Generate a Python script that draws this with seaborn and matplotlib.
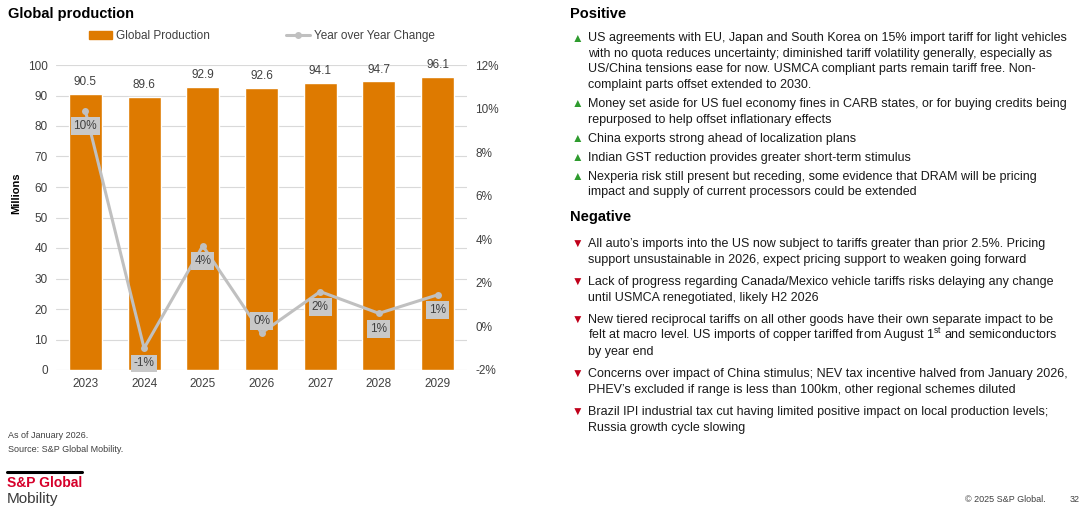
import numpy as np
import pandas as pd
import matplotlib
matplotlib.use("Agg")
import matplotlib.pyplot as plt
import seaborn as sns
from matplotlib.patches import Patch
from matplotlib.lines import Line2D

# Chart data
years = ["2023", "2024", "2025", "2026", "2027", "2028", "2029"]
production = [90.5, 89.6, 92.9, 92.6, 94.1, 94.7, 96.1]   # millions
yoy_change = [9.9, -1.0, 3.7, -0.3, 1.6, 0.6, 1.45]       # %

positive_points = [
    ["US agreements with EU, Japan and South Korea on 15% import tariff for light vehicles",
     "with no quota reduces uncertainty; diminished tariff volatility generally, especially as",
     "US/China tensions ease for now. USMCA compliant parts remain tariff free. Non-",
     "complaint parts offset extended to 2030."],
    ["Money set aside for US fuel economy fines in CARB states, or for buying credits being",
     "repurposed to help offset inflationary effects"],
    ["China exports strong ahead of localization plans"],
    ["Indian GST reduction provides greater short-term stimulus"],
    ["Nexperia risk still present but receding, some evidence that DRAM will be pricing",
     "impact and supply of current processors could be extended"],
]
negative_points = [
    ["All auto\u2019s imports into the US now subject to tariffs greater than prior 2.5%. Pricing",
     "support unsustainable in 2026, expect pricing support to weaken going forward"],
    ["Lack of progress regarding Canada/Mexico vehicle tariffs risks delaying any change",
     "until USMCA renegotiated, likely H2 2026"],
    ["New tiered reciprocal tariffs on all other goods have their own separate impact to be",
     "felt at macro level. US imports of copper tariffed from August 1$^{\\mathrm{st}}$ and semiconductors",
     "by year end"],
    ["Concerns over impact of China stimulus; NEV tax incentive halved from January 2026,",
     "PHEV\u2019s excluded if range is less than 100km, other regional schemes diluted"],
    ["Brazil IPI industrial tax cut having limited positive impact on local production levels;",
     "Russia growth cycle slowing"],
]

df = pd.DataFrame({"Year": years, "Production": production, "YoY": yoy_change})
df["pos"] = range(len(df))

ORANGE = "#DE7A00"
GREY = "#C0C0C0"
TXT = "#404040"
W, H = 1088, 508

sns.set_style("white")
plt.rcParams["font.family"] = ["Liberation Sans", "DejaVu Sans"]
plt.rcParams["mathtext.fontset"] = "custom"
plt.rcParams["mathtext.rm"] = "Liberation Sans"


def fx(px):
    return px / W


def fy(py):
    return 1 - py / H


fig = plt.figure(figsize=(W / 100, H / 100), dpi=100)
ax = fig.add_axes([fx(56), fy(370), 411 / W, 305 / H])

sns.barplot(data=df, x="Year", y="Production", color=ORANGE, saturation=1,
            width=0.56, ax=ax)
ax.bar_label(ax.containers[0], fmt="%.1f", padding=4, fontsize=8.5, color=TXT)
ax.set_ylim(0, 100)
ax.set_yticks(range(0, 101, 10))
ax.set_xlabel("")
ax.set_ylabel("")
ax.set_axisbelow(True)
ax.yaxis.grid(True, color="#D9D9D9", lw=0.8)
ax.tick_params(length=0, labelsize=8.5, labelcolor=TXT)
ax.tick_params(axis="y", pad=6)
ax.tick_params(axis="x", pad=6)
sns.despine(ax=ax, left=True, bottom=True)

ax2 = ax.twinx()
sns.lineplot(data=df, x="pos", y="YoY", color=GREY, lw=2.2, marker="o",
             markersize=5, markeredgewidth=0, ax=ax2)
ax2.set_ylim(-2, 12)
ticks = list(range(-2, 13, 2))
ax2.set_yticks(ticks)
ax2.set_yticklabels([f"{t}%" for t in ticks])
ax2.set_ylabel("")
ax2.set_xlabel("")
ax2.tick_params(length=0, labelsize=8.5, labelcolor=TXT, pad=6)
ax2.grid(False)
for s in ax2.spines.values():
    s.set_visible(False)
ax.set_xlim(-0.5, len(years) - 0.5)

label_above = {"2026"}
for i, (yr, v) in enumerate(zip(years, yoy_change)):
    off = 8.5 if yr in label_above else -11
    ax2.annotate(f"{int(round(v))}%", (i, v), xytext=(0, off),
                 textcoords="offset points", ha="center", va="center",
                 fontsize=8.5, color=TXT,
                 bbox=dict(boxstyle="square,pad=0.25", fc="#C8C8C8", ec="none"))

handles = [Patch(color=ORANGE, label="Global Production"),
           Line2D([], [], color=GREY, lw=2.2, marker="o", markersize=4,
                  label="Year over Year Change")]
ax2.legend(handles=handles, loc="center", bbox_to_anchor=(0.5, 1.095), ncol=2,
           frameon=False, fontsize=8.5, handlelength=2.0, handletextpad=0.3,
           columnspacing=6.5, labelcolor=TXT)

fig.text(fx(16), fy(193), "Millions", rotation=90, ha="center", va="center",
         fontsize=8, weight="bold", color="black")

# titles and notes
fig.text(fx(8), fy(14), "Global production", fontsize=10.5, weight="bold",
         va="center", color="black")
fig.text(fx(8), fy(436), "As of January 2026.", fontsize=6.5, va="center", color=TXT)
fig.text(fx(8), fy(449), "Source: S&P Global Mobility.", fontsize=6.5, va="center", color=TXT)

fig.add_artist(Line2D([fx(7), fx(82)], [fy(472), fy(472)], color="black", lw=2.2))
fig.text(fx(7), fy(483), "S&P Global", fontsize=10, weight="bold", color="#D6002A",
         va="center")
fig.text(fx(7), fy(499), "Mobility", fontsize=11, color="#3a3a3a", va="center")
fig.text(fx(965), fy(499), "\u00a9 2025 S&P Global.", fontsize=6.5, va="center", color=TXT)
fig.text(fx(1070), fy(499), "32", fontsize=6.5, va="center", color=TXT)


def draw_section(title, title_y, points, y0, line_h, gap, glyph, gcolor):
    fig.text(fx(570), fy(title_y), title, fontsize=10.5, weight="bold",
             va="center", color="black")
    y = y0
    for lines in points:
        fig.text(fx(577), fy(y + 1.5), glyph, fontsize=8.5, color=gcolor,
                 ha="center", va="center")
        for ln in lines:
            fig.text(fx(588), fy(y + 4), ln, fontsize=9, color="#1a1a1a",
                     va="baseline")
            y += line_h
        y += gap


draw_section("Positive", 14, positive_points, 37, 15.6, 3.5, "\u25b2", "#2E9B2E")
draw_section("Negative", 217, negative_points, 243, 16, 6, "\u25bc", "#C0001A")

fig.savefig("out.png", dpi=100)
